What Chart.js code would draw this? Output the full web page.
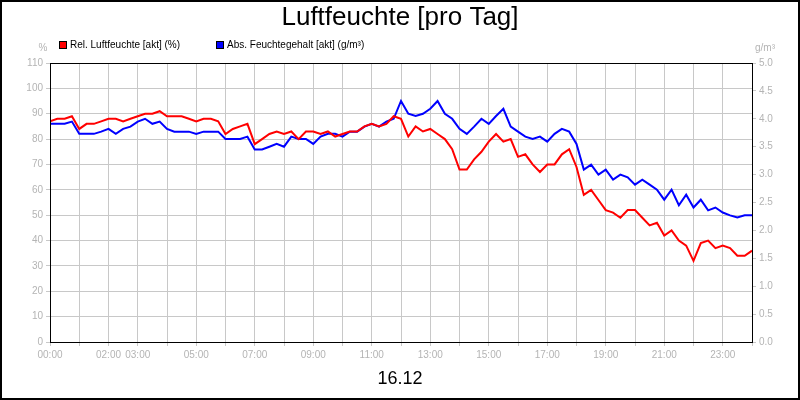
<!DOCTYPE html>
<html><head><meta charset="utf-8">
<script src="https://cdn.jsdelivr.net/npm/chart.js@4/dist/chart.umd.min.js"></script>
<style>html,body{margin:0;padding:0;background:#fff}#wrap{width:800px;height:400px}</style>
</head><body><div id="wrap"><canvas id="c" width="800" height="400"></canvas></div>
<script>
// time in hours, 15-minute steps
const hours = [];
for (let i = 0; i <= 96; i++) hours.push(i / 4);

// Rel. Luftfeuchte (%)
const relHumidity = [87,88,88,89,84,86,86,87,88,88,87,88,89,90,90,91,89,89,89,88,87,88,88,87,
  82,84,85,86,78,80,82,83,82,83,80,83,83,82,83,81,82,83,83,85,86,85,86,89,
  88,81,85,83,84,82,80,76,68,68,72,75,79,82,79,80,73,74,70,67,70,70,74,76,
  69,58,60,56,52,51,49,52,52,49,46,47,42,44,40,38,32,39,40,37,38,37,34,34,36];

// Abs. Feuchtegehalt (g/m³)
const absHumidity = [3.91,3.91,3.91,3.95,3.73,3.73,3.73,3.77,3.82,3.73,3.82,3.86,3.95,4.0,3.91,3.95,
  3.82,3.77,3.77,3.77,3.73,3.77,3.77,3.77,3.64,3.64,3.64,3.68,3.45,3.45,3.5,3.55,
  3.5,3.68,3.64,3.64,3.55,3.68,3.73,3.73,3.68,3.77,3.77,3.86,3.91,3.86,3.95,4.0,
  4.32,4.09,4.05,4.09,4.18,4.32,4.09,4.0,3.82,3.73,3.86,4.0,3.91,4.05,4.18,3.86,
  3.77,3.68,3.64,3.68,3.59,3.73,3.82,3.77,3.55,3.09,3.18,3.0,3.09,2.91,3.0,2.95,
  2.82,2.91,2.82,2.73,2.55,2.73,2.45,2.64,2.41,2.55,2.36,2.41,2.32,2.27,2.23,2.27,2.27];

const shownHourLabels = [0,2,3,5,7,9,11,13,15,17,19,21,23];
const FONT = 'Liberation Sans, Arial, sans-serif';
const TICK = '#b4b4b4';

const decor = {
  id: 'decor',
  afterDraw(chart) {
    const ctx = chart.ctx, a = chart.chartArea;
    ctx.save();
    ctx.strokeStyle = '#000'; ctx.lineWidth = 1;
    ctx.strokeRect(a.left + 0.5, a.top + 0.5, a.right - a.left, a.bottom - a.top);
    ctx.lineWidth = 2;
    ctx.strokeRect(1, 1, 798, 398);
    ctx.fillStyle = '#000'; ctx.textAlign = 'center'; ctx.textBaseline = 'middle';
    ctx.font = '26px ' + FONT;
    ctx.fillText('Luftfeuchte [pro Tag]', 400, 18);
    ctx.font = '18px ' + FONT;
    ctx.fillText('16.12', 400, 379);
    ctx.font = '10px ' + FONT; ctx.fillStyle = TICK;
    ctx.fillText('%', 43, 48);
    ctx.fillText('g/m³', 765, 48);
    ctx.textAlign = 'left'; ctx.fillStyle = '#000';
    const items = [['Rel. Luftfeuchte [akt] (%)', '#ff0000', 59], ['Abs. Feuchtegehalt [akt] (g/m³)', '#0000ff', 216]];
    for (const [t, c, x] of items) {
      ctx.fillStyle = c; ctx.fillRect(x, 41, 7, 7);
      ctx.strokeStyle = '#000'; ctx.lineWidth = 1; ctx.strokeRect(x + 0.5, 41.5, 7, 7);
      ctx.fillStyle = '#000'; ctx.fillText(t, x + 11, 45);
    }
    ctx.restore();
  }
};

new Chart(document.getElementById('c'), {
  type: 'line',
  data: {
    datasets: [
      { label: 'Rel. Luftfeuchte [akt] (%)', data: hours.map((h, i) => ({x: h, y: relHumidity[i]})),
        borderColor: '#ff0000', borderWidth: 2, pointRadius: 0, tension: 0, yAxisID: 'y' },
      { label: 'Abs. Feuchtegehalt [akt] (g/m³)', data: hours.map((h, i) => ({x: h, y: absHumidity[i]})),
        borderColor: '#0000ff', borderWidth: 2, pointRadius: 0, tension: 0, yAxisID: 'y2' }
    ]
  },
  options: {
    animation: false, responsive: false,
    layout: { padding: { top: 63, bottom: 38, left: 0, right: 0 } },
    plugins: { legend: { display: false }, tooltip: { enabled: false } },
    scales: {
      x: { type: 'linear', min: 0, max: 24,
        afterFit(s) { s.height = 20; },
        grid: { color: '#c8c8c8', tickLength: 4 }, border: { display: false },
        ticks: { stepSize: 1, autoSkip: false, maxRotation: 0, color: TICK, font: { size: 10, family: FONT },
          callback: v => shownHourLabels.includes(v) ? String(v).padStart(2, '0') + ':00' : '' } },
      y: { position: 'left', min: 0, max: 110,
        afterFit(s) { s.width = 50; },
        grid: { color: '#c8c8c8', tickLength: 4 }, border: { display: false },
        ticks: { stepSize: 10, color: TICK, font: { size: 10, family: FONT } } },
      y2: { position: 'right', min: 0, max: 5,
        afterFit(s) { s.width = 48; },
        grid: { drawOnChartArea: false, tickLength: 4, color: '#c8c8c8' }, border: { display: false },
        ticks: { stepSize: 0.5, color: TICK, font: { size: 10, family: FONT }, callback: v => v.toFixed(1) } }
    }
  },
  plugins: [decor]
});
</script></body></html>
